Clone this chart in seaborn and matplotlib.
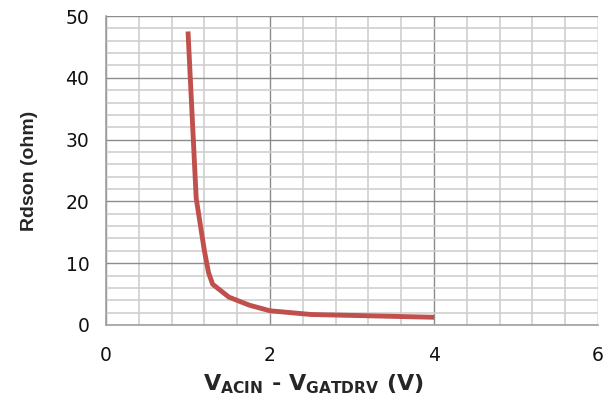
import matplotlib
matplotlib.use("Agg")
import matplotlib.pyplot as plt
import seaborn as sns
import pandas as pd
from matplotlib.ticker import MultipleLocator

# Data
vgs = [1.0, 1.1, 1.2, 1.25, 1.3, 1.5, 1.75, 2.0, 2.5, 3.0, 3.5, 4.0]
rdson = [47.5, 20.5, 12.0, 8.5, 6.6, 4.5, 3.2, 2.3, 1.7, 1.55, 1.4, 1.25]
x_ticks = [0, 2, 4, 6]
y_ticks = [0, 10, 20, 30, 40, 50]

df = pd.DataFrame({"v": vgs, "r": rdson})

sns.set_style("white")
plt.rcParams["font.family"] = ["DejaVu Sans"]
plt.rcParams["mathtext.fontset"] = "custom"
plt.rcParams["mathtext.rm"] = "DejaVu Sans"
plt.rcParams["mathtext.bf"] = "DejaVu Sans:bold"

fig = plt.figure(figsize=(6.09, 4.03), dpi=100)
ax = fig.add_axes([106/609, 1-325/403, (598-106)/609, (325-16)/403])

sns.lineplot(data=df, x="v", y="r", ax=ax, color="#C0504D", linewidth=3.5,
             solid_capstyle="butt", zorder=5)

ax.set_xlim(0, 6)
ax.set_ylim(0, 50)
ax.set_xticks(x_ticks)
ax.set_yticks(y_ticks)
ax.xaxis.set_minor_locator(MultipleLocator(0.4))
ax.yaxis.set_minor_locator(MultipleLocator(2))
ax.grid(which="major", color="#8c8c8c", linewidth=1.0)
ax.grid(which="minor", color="#cfcfcf", linewidth=1.2)
ax.set_axisbelow(True)

for s in ["top", "right"]:
    ax.spines[s].set_visible(False)
for s in ["left", "bottom"]:
    ax.spines[s].set_color("#a0a0a0")
    ax.spines[s].set_linewidth(1.2)

ax.tick_params(which="major", direction="out", length=7, width=1.0,
               color="#a0a0a0", labelsize=13.5, pad=5, labelcolor="#111111")
ax.tick_params(axis="x", pad=8)
ax.tick_params(which="minor", length=0)

ax.set_ylabel("Rdson (ohm)", fontsize=14, fontweight="bold", labelpad=20,
              family="Liberation Sans")
ax.set_xlabel(r"$\mathbf{V_{ACIN}}$ - $\mathbf{V_{GATDRV}}$ (V)",
              fontsize=16, fontweight="bold")
ax.xaxis.set_label_coords((313-106)/(598-106), -0.155)

fig.savefig("out.png", dpi=100)
